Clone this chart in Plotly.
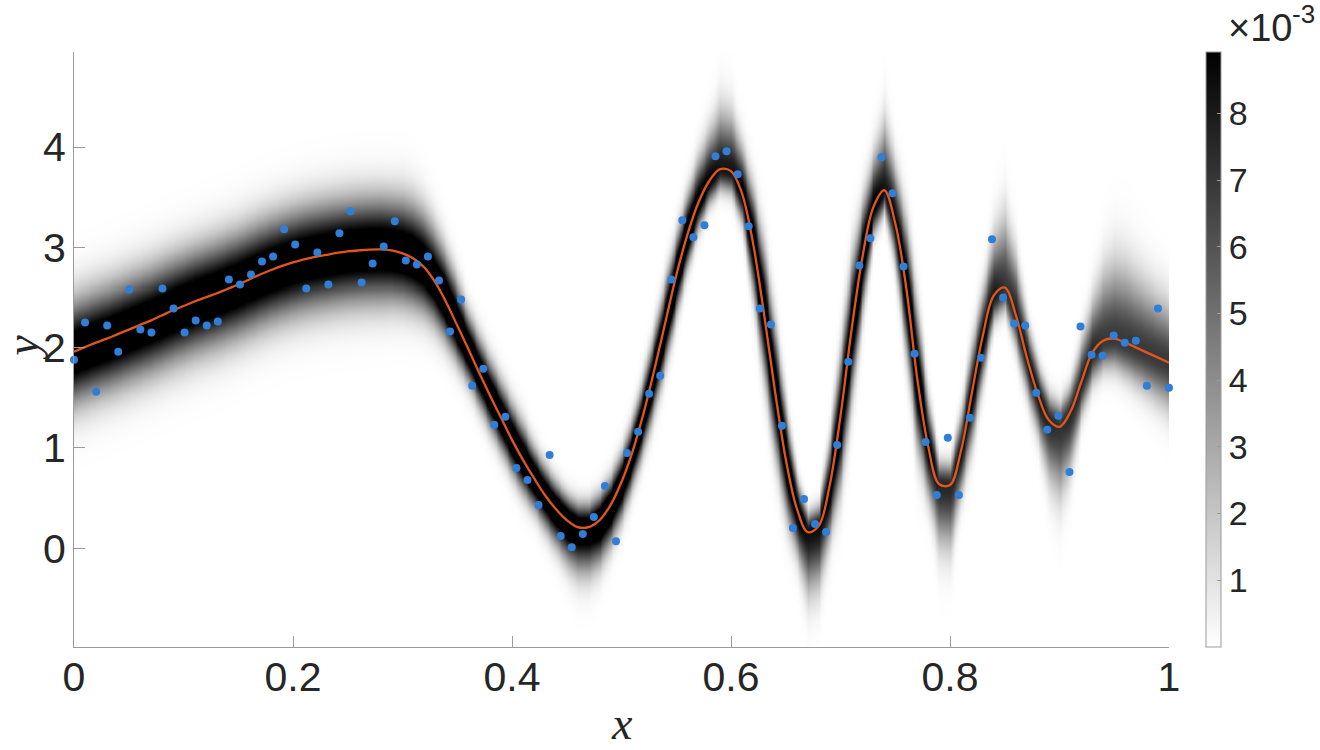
import numpy as np
import plotly.graph_objects as go

# ---------------- data ----------------
# observed samples (100 points, evenly spaced on [0, 1])
x_obs = np.linspace(0, 1, 100)
y_obs = [1.88, 2.25, 1.56, 2.22, 1.96, 2.58, 2.18, 2.15, 2.59, 2.39,
         2.15, 2.27, 2.22, 2.26, 2.68, 2.63, 2.73, 2.86, 2.91, 3.18,
         3.03, 2.59, 2.95, 2.63, 3.14, 3.36, 2.65, 2.84, 3.01, 3.26,
         2.87, 2.83, 2.91, 2.67, 2.16, 2.48, 1.62, 1.79, 1.23, 1.31,
         0.80, 0.68, 0.43, 0.93, 0.12, 0.01, 0.14, 0.31, 0.62, 0.07,
         0.95, 1.16, 1.54, 1.72, 2.68, 3.27, 3.10, 3.22, 3.91, 3.96,
         3.73, 3.21, 2.39, 2.23, 1.22, 0.20, 0.49, 0.24, 0.16, 1.03,
         1.86, 2.82, 3.09, 3.90, 3.54, 2.81, 1.94, 1.06, 0.53, 1.10,
         0.53, 1.30, 1.90, 3.08, 2.50, 2.24, 2.22, 1.55, 1.18, 1.32,
         0.76, 2.21, 1.93, 1.92, 2.12, 2.05, 2.07, 1.62, 2.39, 1.60]

# predictive mean curve, read every 0.01
mean_x = np.round(np.arange(101) * 0.01, 2)
mean_y = [1.960, 2.005, 2.050, 2.090, 2.135, 2.180, 2.225, 2.270, 2.320, 2.370,
          2.415, 2.460, 2.500, 2.540, 2.585, 2.630, 2.680, 2.730, 2.775, 2.815,
          2.850, 2.880, 2.905, 2.925, 2.945, 2.960, 2.970, 2.978, 2.980, 2.970,
          2.940, 2.890, 2.800, 2.650, 2.450, 2.220, 1.990, 1.750, 1.520, 1.300,
          1.080, 0.880, 0.700, 0.530, 0.390, 0.280, 0.210, 0.210, 0.280, 0.430,
          0.660, 0.960, 1.340, 1.780, 2.250, 2.720, 3.120, 3.440, 3.660, 3.780,
          3.760, 3.540, 3.050, 2.350, 1.580, 0.890, 0.400, 0.160, 0.220, 0.620,
          1.320, 2.170, 2.900, 3.400, 3.570, 3.240, 2.600, 1.700, 1.020, 0.640,
          0.630, 0.970, 1.550, 2.120, 2.520, 2.600, 2.330, 1.910, 1.540, 1.280,
          1.210, 1.360, 1.660, 1.950, 2.070, 2.090, 2.050, 2.000, 1.950, 1.900,
          1.850]

# vertical spread of the density band below / above the mean, and its relative peak
sd_below = [0.33] * 29 + [
    0.32, 0.31, 0.30, 0.28, 0.26, 0.24, 0.22, 0.20, 0.20, 0.20,
    0.20, 0.20, 0.20, 0.19, 0.20, 0.22, 0.25, 0.28, 0.28, 0.26,
    0.23, 0.21, 0.20, 0.21, 0.23, 0.24, 0.22, 0.19, 0.16, 0.14,
    0.13, 0.14, 0.18, 0.30, 0.37, 0.37, 0.32, 0.27, 0.37, 0.36,
    0.30, 0.39, 0.40, 0.31, 0.17, 0.13, 0.25, 0.37, 0.40, 0.30,
    0.37, 0.38, 0.25, 0.29, 0.25, 0.15, 0.14, 0.20, 0.22, 0.24,
    0.36, 0.42, 0.34, 0.20, 0.18, 0.18, 0.19, 0.21, 0.23, 0.25,
    0.27, 0.29]
sd_above = [0.33] * 29 + [
    0.33, 0.34, 0.34, 0.33, 0.31, 0.28, 0.25, 0.21, 0.21, 0.21,
    0.21, 0.21, 0.21, 0.18, 0.17, 0.16, 0.15, 0.15, 0.15, 0.16,
    0.17, 0.18, 0.19, 0.21, 0.23, 0.24, 0.23, 0.23, 0.26, 0.29,
    0.36, 0.34, 0.27, 0.30, 0.37, 0.37, 0.30, 0.18, 0.12, 0.13,
    0.28, 0.39, 0.40, 0.31, 0.30, 0.40, 0.32, 0.37, 0.40, 0.27,
    0.14, 0.14, 0.23, 0.29, 0.27, 0.36, 0.43, 0.34, 0.22, 0.18,
    0.16, 0.15, 0.17, 0.25, 0.32, 0.42, 0.47, 0.47, 0.44, 0.41,
    0.38, 0.36]
peak = [1.22] * 34 + [
    1.3, 1.3, 1.3, 1.3, 1.3, 1.3, 1.3, 1.3, 1.3, 1.3,
    1.3, 1.3, 1.2, 1.2, 1.3, 1.3, 1.3, 1.3, 1.3, 1.3,
    1.3, 1.3, 1.3, 1.1, 1.0, 0.92, 0.92, 1.05, 1.2, 1.2,
    1.2, 1.2, 1.1, 0.95, 0.95, 1.1, 1.2, 1.2, 1.2, 1.05,
    0.92, 1.0, 1.2, 1.2, 1.05, 0.85, 0.85, 0.95, 1.05, 1.05,
    0.9, 0.78, 0.88, 0.95, 0.95, 0.85, 0.8, 0.85, 0.88, 0.85,
    0.78, 0.78, 0.78, 0.78, 0.78, 0.78, 0.78]

cbar_max = 8.92e-3
cbar_ticks = [1, 2, 3, 4, 5, 6, 7, 8]
x_ticks = [0, 0.2, 0.4, 0.6, 0.8, 1]
x_ticktext = ["0", "0.2", "0.4", "0.6", "0.8", "1"]
y_ticks = [0, 1, 2, 3, 4]
y_range = [-0.986, 4.949]

# ---------------- density image built from the arrays ----------------
x_img = np.linspace(0, 1, 401)
y_img = np.arange(-1.0, 4.975, 0.01)
mu_c = np.interp(x_img, mean_x, mean_y)
lo_c = np.interp(x_img, mean_x, sd_below)
hi_c = np.interp(x_img, mean_x, sd_above)
pk_c = np.interp(x_img, mean_x, peak)
D = y_img[:, None] - mu_c[None, :]
S = np.where(D > 0, hi_c[None, :], lo_c[None, :])
z = cbar_max * pk_c[None, :] * np.exp(-0.5 * (D / S) ** 2)

FONT = "Liberation Sans, Arial, Helvetica, sans-serif"
SERIF = "Liberation Serif, DejaVu Serif, serif"
AX = "#9b9b9b"
TXT = "#262626"

fig = go.Figure()
fig.add_trace(go.Heatmap(
    x=x_img, y=y_img, z=z, zmin=0, zmax=cbar_max,
    colorscale=[[0, "#ffffff"], [1, "#000000"]],
    zsmooth="best", hoverinfo="skip",
    colorbar=dict(
        x=1.0342, xanchor="left", xpad=0, y=0.5, yanchor="middle",
        len=1, lenmode="fraction", ypad=0,
        thickness=15, thicknessmode="pixels",
        outlinewidth=1, outlinecolor=AX,
        tickvals=[v * 1e-3 for v in cbar_ticks],
        ticktext=[str(v) for v in cbar_ticks],
        ticks="inside", ticklen=4, tickcolor=AX,
        tickfont=dict(family=FONT, size=34, color=TXT),
    ),
))
fig.add_trace(go.Scatter(
    x=mean_x, y=mean_y, mode="lines",
    line=dict(color="#E0561C", width=2.3, shape="spline", smoothing=1.0),
    hoverinfo="skip", cliponaxis=False, showlegend=False,
))
fig.add_trace(go.Scatter(
    x=x_obs, y=y_obs, mode="markers",
    marker=dict(color="#2F7ED8", size=8, line=dict(width=0)),
    cliponaxis=False, showlegend=False,
))

fig.update_layout(
    width=1320, height=750,
    margin=dict(l=73.5, r=150.5, t=52, b=103.3, pad=0),
    paper_bgcolor="white", plot_bgcolor="white",
    showlegend=False,
    xaxis=dict(
        range=[0, 1], tickvals=x_ticks, ticktext=x_ticktext,
        ticks="inside", ticklen=11, tickcolor=AX, tickwidth=1,
        showline=True, linecolor=AX, linewidth=1.2,
        showgrid=False, zeroline=False,
        tickfont=dict(family=FONT, size=41, color=TXT),
        ticklabelstandoff=-6,
    ),
    yaxis=dict(
        range=y_range, tickvals=y_ticks,
        ticks="inside", ticklen=11, tickcolor=AX, tickwidth=1,
        showline=True, linecolor=AX, linewidth=1.2,
        showgrid=False, zeroline=False,
        tickfont=dict(family=FONT, size=41, color=TXT),
        ticklabelstandoff=-1,
    ),
    annotations=[
        dict(text="<i>x</i>", xref="paper", yref="paper", x=0.5005, y=-0.1737,
             xanchor="center", yanchor="bottom", showarrow=False, borderpad=0,
             font=dict(family=SERIF, size=46, color=TXT)),
        dict(text="<i>y</i>", xref="paper", yref="paper", x=-0.0465, y=0.503,
             xanchor="center", yanchor="middle", showarrow=False, textangle=-90,
             borderpad=0,
             font=dict(family=SERIF, size=46, color=TXT)),
        dict(text="×10", xref="paper", yref="paper", x=1.0534, y=1.0404,
             xanchor="left", yanchor="middle", showarrow=False, borderpad=0,
             font=dict(family=FONT, size=38, color=TXT)),
        dict(text="-3", xref="paper", yref="paper", x=1.1113, y=1.0645,
             xanchor="left", yanchor="middle", showarrow=False, borderpad=0,
             font=dict(family=FONT, size=26, color=TXT)),
    ],
)

fig.write_html(
    "out.html",
    config={"displayModeBar": False},
    post_script="document.body.style.margin='0';document.body.style.overflow='hidden';",
)
